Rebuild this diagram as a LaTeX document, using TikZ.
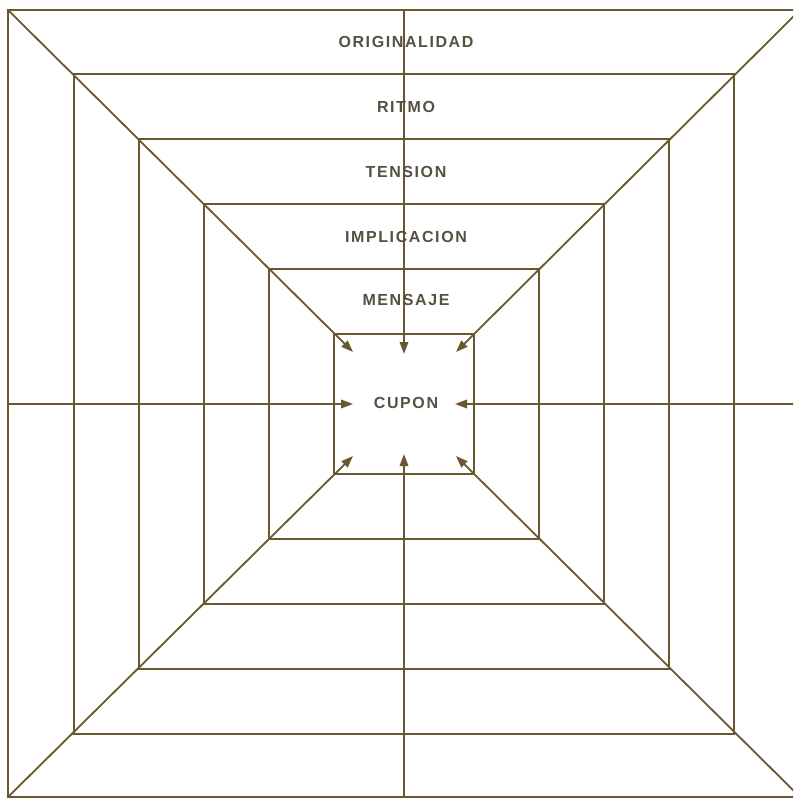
\documentclass[tikz,border=0pt]{standalone}
\usepackage{fontspec}
\setmainfont{Liberation Sans}
\usetikzlibrary{arrows.meta}
\definecolor{ln}{RGB}{105,88,45}
\definecolor{tx}{RGB}{85,80,65}
\begin{document}
\begin{tikzpicture}[x=1pt,y=-1pt,
  sq/.style={draw=ln, line width=1.8pt, minimum width=#1, minimum height=#1, inner sep=0pt, outer sep=0pt},
  lbl/.style={text=tx, inner sep=1pt, font=\fontsize{16}{16}\selectfont\bfseries\addfontfeature{LetterSpace=10}},
  con/.style={draw=ln, line width=1.8pt},
  arr/.style={con, -{Triangle[length=12pt,width=8.5pt]}}]
\useasboundingbox (0,0) rectangle (793,798);
\begin{scope}
\clip (0,0) rectangle (793,798);
\node[draw=ln, line width=1.8pt, minimum width=792pt, minimum height=787pt, inner sep=0pt, outer sep=0pt] (s1) at (404,403.5) {};
\node[sq=660pt] (s2) at (404,404) {};
\node[sq=530pt] (s3) at (404,404) {};
\node[sq=400pt] (s4) at (404,404) {};
\node[sq=270pt] (s5) at (404,404) {};
\node[sq=140pt] (s6) at (404,404) {};
\coordinate (tnw) at (353,352);
\coordinate (tne) at (456,352);
\coordinate (tsw) at (353,456);
\coordinate (tse) at (456,456);
\coordinate (tn) at (404,354);
\coordinate (ts) at (404,454);
\coordinate (tw) at (353,404);
\coordinate (te) at (455,404);
\draw[arr] (s1.north west) -- (tnw);
\draw[arr] (s1.north east) -- (tne);
\draw[arr] (s1.south west) -- (tsw);
\draw[arr] (s1.south east) -- (tse);
\draw[arr] (s1.north) -- (tn);
\draw[arr] (s1.south) -- (ts);
\draw[arr] (s1.west |- tw) -- (tw);
\draw[arr] (s1.east |- te) -- (te);
\end{scope}
\node[lbl] (l1) at (406,42) {ORIGINALIDAD};
\node[lbl] (l2) at (406,107) {RITMO};
\node[lbl] (l3) at (406,172) {TENSION};
\node[lbl] (l4) at (406,237) {IMPLICACION};
\node[lbl] (l5) at (406,300) {MENSAJE};
\node[lbl] (l6) at (406,403) {CUPON};
\end{tikzpicture}
\end{document}
